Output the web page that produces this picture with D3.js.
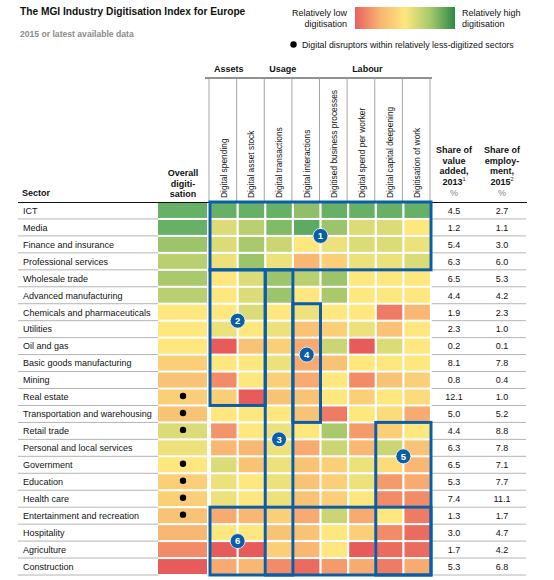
<!DOCTYPE html>
<html><head><meta charset="utf-8">
<script src="https://cdn.jsdelivr.net/npm/d3@7"></script>
<style>
body{margin:0;background:#fff;}
svg text{font-family:"Liberation Sans",Arial,sans-serif;fill:#111;}
</style></head>
<body>
<svg id="c" width="554" height="580"></svg>
<script>
const sectors = ["ICT","Media","Finance and insurance","Professional services","Wholesale trade","Advanced manufacturing","Chemicals and pharmaceuticals","Utilities","Oil and gas","Basic goods manufacturing","Mining","Real estate","Transportation and warehousing","Retail trade","Personal and local services","Government","Education","Health care","Entertainment and recreation","Hospitality","Agriculture","Construction"];
const metrics = ["Digital spending","Digital asset stock","Digital transactions","Digital interactions","Digitised business processes","Digital spend per worker","Digital capital deepening","Digitisation of work"];
const groups = ["Assets","Usage","Labour"];
// digitisation scores, 0 = relatively low, 10 = relatively high
const overall = [10,10,8,7,7.5,7,5,5,5,4,3.5,4,3.5,6,5.5,5,4,4,3.5,3,1.5,0];
const digitalSpending = [10,6,6,5.5,5,5,5,5.5,0,5,1.5,4,5,1.8,3,6,5.5,5.5,2.5,5,0,2.5];
const digitalAssetStock = [10,7,7.5,8,6,6,6,5,3.5,5,5,0,5,5,3,3.5,5,5,3,5,0,3];
const digitalTransactions = [10,9,6.5,5.5,8,8,5,5.5,4,5.5,4,3.5,5,5.5,5.5,5.5,5.5,5.5,4,3.5,4,1.5];
const digitalInteractions = [8.5,10.4,5,3,7,5,5.5,3.5,2.5,2.5,2.5,3.5,3.5,5,2.5,3.5,3.5,3.5,2.5,3.5,3,0.5];
const digitisedProcesses = [10,8,5.5,4,8,7.5,5,4,6.5,3.5,5,5,1,7.5,6.5,4,4,4,6.5,5,5,2];
const spendPerWorker = [10,6,6,5.5,5,5,5,5.5,0,5,1.5,4,5,2,3,5.5,5.5,5,2.5,4,0,2.5];
const capitalDeepening = [10,6,6,5.5,5,5,1,3.5,6,5,3.5,5,4.5,4,6.5,4.5,2,1.5,5,1.5,0.5,1];
const digitisationOfWork = [10,5,5.5,6,5,5,3,5,5,5,4,4.5,2.5,5,3.5,3,2.5,1.5,1,0.5,0.5,2.5];
const valueAdded = ["4.5","1.2","5.4","6.3","6.5","4.4","1.9","2.3","0.2","8.1","0.8","12.1","5.0","4.4","6.3","6.5","5.3","7.4","1.3","3.0","1.7","5.3"];
const employment = ["2.7","1.1","3.0","6.0","5.3","4.2","2.3","1.0","0.1","7.8","0.4","1.0","5.2","8.8","7.8","7.1","7.7","11.1","1.7","4.7","4.2","6.8"];
const disruptors = ["Real estate","Transportation and warehousing","Retail trade","Government","Education","Health care","Entertainment and recreation"];
// highlighted boxes: [label, first metric, last metric, first sector, last sector]
const boxes = [
  [1,"Digital spending","Digitisation of work","ICT","Professional services"],
  [2,"Digital spending","Digital asset stock","Wholesale trade","Real estate"],
  [3,"Digital transactions","Digital transactions","Wholesale trade","Construction"],
  [4,"Digital interactions","Digital interactions","Chemicals and pharmaceuticals","Transportation and warehousing"],
  [5,"Digital capital deepening","Digitisation of work","Retail trade","Construction"],
  [6,"Digital spending","Digitisation of work","Entertainment and recreation","Construction"]
];

const cols = [digitalSpending,digitalAssetStock,digitalTransactions,digitalInteractions,digitisedProcesses,spendPerWorker,capitalDeepening,digitisationOfWork];

const svg = d3.select("#c");
const color = d3.scaleLinear().domain([0,2.5,5,7.5,10,10.5])
  .range(["#e85b5b","#f7ab70","#fde77e","#a9c96c","#67b166","#5aa85e"]).clamp(true);

const y = d3.scaleBand().domain(sectors).range([202,575]).paddingInner(0.12).paddingOuter(0.06);
const x = d3.scaleBand().domain(metrics).range([210,431]).paddingInner(0.08).paddingOuter(0.04);
const ox = [158,207];
const blue = "#0b5ea6";

// Title
svg.append("text").attr("x",20).attr("y",15).attr("font-size",10.2).attr("font-weight","bold").text("The MGI Industry Digitisation Index for Europe");
svg.append("text").attr("x",20).attr("y",37).attr("font-size",8.6).attr("font-weight","bold").style("fill","#8c8c8c").text("2015 or latest available data");

// Legend
const defs = svg.append("defs");
const lg = defs.append("linearGradient").attr("id","lg");
[["0%","#e86161"],["25%","#f8b470"],["50%","#fde77e"],["75%","#a6ca6b"],["100%","#2e8a47"]].forEach(s=>lg.append("stop").attr("offset",s[0]).attr("stop-color",s[1]));
svg.append("rect").attr("x",355).attr("y",7).attr("width",100).attr("height",22).attr("fill","url(#lg)");
const lt = svg.append("text").attr("font-size",9).attr("text-anchor","end");
lt.append("tspan").attr("x",347).attr("y",16).text("Relatively low");
lt.append("tspan").attr("x",347).attr("y",27).text("digitisation");
const rt = svg.append("text").attr("font-size",9);
rt.append("tspan").attr("x",462).attr("y",16).text("Relatively high");
rt.append("tspan").attr("x",462).attr("y",27).text("digitisation");
svg.append("circle").attr("cx",293.5).attr("cy",44.5).attr("r",3.2).attr("fill","#000");
svg.append("text").attr("x",302).attr("y",48).attr("font-size",8.8).text("Digital disruptors within relatively less-digitized sectors");

// Group headers
const step = x.step(), half = step*x.paddingInner()/2;
const bx = m => x(m)-half;
svg.append("text").attr("x",bx("Digital spending")+4).attr("y",72).attr("font-size",9).attr("font-weight","bold").text(groups[0]);
svg.append("text").attr("x",bx("Digital transactions")+4).attr("y",72).attr("font-size",9).attr("font-weight","bold").text(groups[1]);
svg.append("text").attr("x",bx("Digital spend per worker")+4).attr("y",72).attr("font-size",9).attr("font-weight","bold").text(groups[2]);
svg.append("line").attr("x1",205).attr("x2",432).attr("y1",78).attr("y2",78).attr("stroke","#222").attr("stroke-width",1);

// header vertical lines
const vl = metrics.map(bx).concat([x.range()[1]]);
svg.selectAll("line.vh").data(vl).join("line").attr("x1",d=>d-1).attr("x2",d=>d-1).attr("y1",78.5).attr("y2",202)
  .attr("stroke","#a6a6a6").attr("stroke-width",1);
// rotated labels
svg.selectAll("text.ml").data(metrics).join("text")
  .attr("transform",d=>`translate(${x(d)+x.bandwidth()/2+3},198) rotate(-90)`)
  .attr("font-size",8.4).text(d=>d);

// Left headers
svg.append("text").attr("x",22).attr("y",196).attr("font-size",9).attr("font-weight","bold").text("Sector");
const oh = svg.append("text").attr("font-size",9).attr("font-weight","bold").attr("text-anchor","middle");
["Overall","digiti-","sation"].forEach((t,i)=>oh.append("tspan").attr("x",183).attr("y",176+i*10.5).text(t));

// Right headers
function rh(cx, lines, sup){
  const t = svg.append("text").attr("font-size",9).attr("font-weight","bold").attr("text-anchor","middle");
  lines.forEach((l,i)=>{
    const ts = t.append("tspan").attr("x",cx).attr("y",153+i*10.7).text(l);
  });
  const last = t.append("tspan").attr("x",cx).attr("y",153+lines.length*10.7).text(sup[0]);
  t.append("tspan").attr("font-size",5.5).attr("font-weight","normal").attr("dy",-4).text(sup[1]);
  svg.append("text").attr("x",cx).attr("y",196).attr("font-size",9).attr("text-anchor","middle").style("fill","#888").text("%");
}
rh(454,["Share of","value","added,"],["2013","1"]);
rh(502,["Share of","employ-","ment,"],["2015","2"]);

// Row lines
const yb = s => y(s) - y.step()*y.paddingInner()/2;
svg.selectAll("line.rl").data(sectors).join("line")
  .attr("x1",18).attr("x2",158).attr("y1",d=>yb(d)+y.step()).attr("y2",d=>yb(d)+y.step())
  .attr("stroke","#b4b4b4").attr("stroke-width",1);
svg.selectAll("line.rr").data(sectors).join("line")
  .attr("x1",432).attr("x2",526).attr("y1",d=>yb(d)+y.step()).attr("y2",d=>yb(d)+y.step())
  .attr("stroke","#b4b4b4").attr("stroke-width",1);
svg.append("line").attr("x1",18).attr("x2",527).attr("y1",202.5).attr("y2",202.5).attr("stroke","#111").attr("stroke-width",1.2);

// Sector labels
svg.selectAll("text.sl").data(sectors).join("text")
  .attr("x",23).attr("y",d=>y(d)+y.bandwidth()/2+3.3).attr("font-size",9).text(d=>d);

// Overall cells
svg.selectAll("rect.ov").data(sectors).join("rect")
  .attr("x",ox[0]).attr("width",ox[1]-ox[0]).attr("y",d=>y(d)).attr("height",y.bandwidth())
  .attr("fill",(d,i)=>color(overall[i]));
svg.selectAll("circle.dd").data(disruptors).join("circle")
  .attr("cx",183).attr("cy",d=>y(d)+y.bandwidth()/2-1).attr("r",3.2).attr("fill","#000");

// Heatmap cells
const cells = [];
metrics.forEach((m,j)=>sectors.forEach((s,i)=>cells.push({m,s,v:cols[j][i]})));
svg.selectAll("rect.cell").data(cells).join("rect")
  .attr("x",d=>x(d.m)).attr("width",x.bandwidth()).attr("y",d=>y(d.s)).attr("height",y.bandwidth())
  .attr("fill",d=>color(d.v));

// Values
svg.selectAll("text.va").data(sectors).join("text")
  .attr("x",454).attr("y",(d)=>y(d)+y.bandwidth()/2+3.3).attr("font-size",9).attr("text-anchor","middle").text((d,i)=>valueAdded[i]);
svg.selectAll("text.em").data(sectors).join("text")
  .attr("x",502).attr("y",(d)=>y(d)+y.bandwidth()/2+3.3).attr("font-size",9).attr("text-anchor","middle").text((d,i)=>employment[i]);

// Boxes
const boxG = svg.append("g");
boxes.forEach(b=>{
  const x0 = bx(b[1]), x1 = bx(b[2])+step;
  const y0 = yb(b[3]), y1 = yb(b[4])+y.step();
  boxG.append("rect").attr("x",x0).attr("y",y0).attr("width",x1-x0).attr("height",y1-y0)
    .attr("fill","none").attr("stroke",blue).attr("stroke-width",3);
});
// Box number badges
const badges = [
  [1, bx("Digitised business processes"), yb("Finance and insurance")],
  [2, bx("Digital asset stock"), yb("Utilities")],
  [3, x("Digital transactions")+x.bandwidth()/2, yb("Personal and local services")],
  [4, x("Digital interactions")+x.bandwidth()/2, yb("Basic goods manufacturing")],
  [5, bx("Digitisation of work"), yb("Government")],
  [6, bx("Digital asset stock"), yb("Agriculture")]
];
badges.forEach(b=>{
  svg.append("circle").attr("cx",b[1]).attr("cy",b[2]).attr("r",7.5).attr("fill",blue).attr("stroke","#fff").attr("stroke-width",0.8);
  svg.append("text").attr("x",b[1]).attr("y",b[2]+3.3).attr("font-size",9.5).attr("font-weight","bold").attr("text-anchor","middle").style("fill","#fff").text(b[0]);
});
</script>
</body></html>
